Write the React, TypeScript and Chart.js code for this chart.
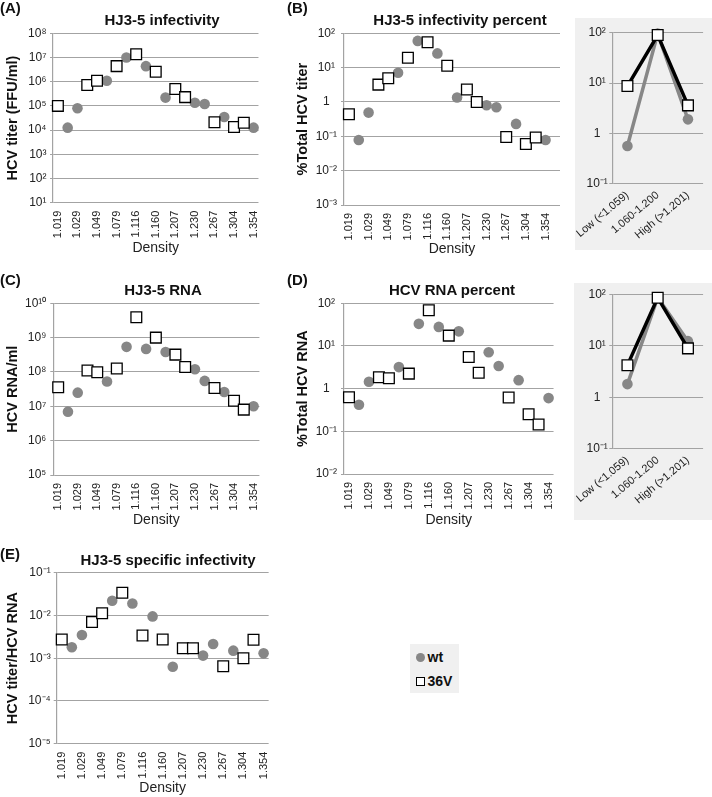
import React, { useEffect, useRef } from 'react';
import { Chart, registerables } from 'chart.js';

Chart.register(...registerables);
Chart.defaults.font.family = '"Liberation Sans", Arial, sans-serif';

// ---------- data ----------
const densityLabels = ['1.019', '1.029', '1.049', '1.079', '1.116', '1.160', '1.207', '1.230', '1.267', '1.304', '1.354'];

// 21 fractions; labelled every other fraction
const infectivityWt = [null, 1.26e4, 8e4, null, null, 1.1e6, null, 1e7, null, 4.4e6, null, 2.2e5, null, null, 1.35e5, 1.2e5, null, 3.5e4, null, null, 1.26e4];
const infectivity36V = [1e5, null, null, 7.3e5, 1.1e6, null, 4.4e6, null, 1.35e7, null, 2.6e6, null, 5e5, 2.3e5, null, null, 2.1e4, null, 1.35e4, 2e4, null];

const infPercentWt = [null, 0.078, 0.49, null, null, 7.1, null, 60, null, 26, null, 1.35, null, null, 0.8, 0.7, null, 0.23, null, null, 0.078];
const infPercent36V = [0.44, null, null, 3.2, 4.9, null, 19.5, null, 55, null, 11.4, null, 2.3, 1.0, null, null, 0.095, null, 0.06, 0.093, null];

const rnaWt = [null, 7e6, 2.5e7, null, null, 5.3e7, null, 5.4e8, null, 4.7e8, null, 3.8e8, null, null, 1.2e8, 5.5e7, null, 2.6e7, null, null, 1e7];
const rna36V = [3.6e7, null, null, 1.1e8, 9.8e7, null, 1.27e8, null, 3.9e9, null, 1e9, null, 3.2e8, 1.4e8, null, null, 3.4e7, null, 1.45e7, 8e6, null];

const rnaPercentWt = [null, 0.42, 1.45, null, null, 3.2, null, 33, null, 28, null, 22, null, null, 7.1, 3.4, null, 1.58, null, null, 0.6];
const rnaPercent36V = [0.63, null, null, 1.85, 1.75, null, 2.25, null, 69, null, 17.5, null, 5.5, 2.35, null, null, 0.62, null, 0.25, 0.145, null];

const specInfWt = [null, 1.8e-3, 3.5e-3, null, null, 2.2e-2, null, 1.9e-2, null, 9.5e-3, null, 6.3e-4, null, null, 1.15e-3, 2.15e-3, null, 1.5e-3, null, null, 1.3e-3];
const specInf36V = [2.75e-3, null, null, 7e-3, 1.12e-2, null, 3.4e-2, null, 3.4e-3, null, 2.75e-3, null, 1.7e-3, 1.7e-3, null, null, 6.5e-4, null, 1.0e-3, 2.7e-3, null];

const groupLabels = ['Low (<1.059)', '1.060-1.200', 'High (>1.201)'];
const infGroupWt = [0.56, 96, 1.9];
const infGroup36V = [8.7, 90, 3.6];
const rnaGroupWt = [1.8, 86, 12.3];
const rnaGroup36V = [4.2, 86, 8.9];

// ---------- helpers ----------
const SUP: Record<string, string> = { '0': '⁰', '1': '¹', '2': '²', '3': '³', '4': '⁴', '5': '⁵', '6': '⁶', '7': '⁷', '8': '⁸', '9': '⁹', '-': '⁻' };
function powLabel(v: number): string {
  const e = Math.round(Math.log10(v));
  if (e === 0) return '1';
  return '10' + String(e).split('').map((c) => SUP[c] || c).join('');
}
function pows(a: number, b: number): number[] {
  const out: number[] = [];
  for (let e = a; e <= b; e++) out.push(Math.pow(10, e));
  return out;
}

const GRID = '#a3a3a3';
const TICK = '#222222';
const WT_COLOR = '#878787';

type Box = { x: number; y: number; w: number; h: number };
type Plot = { l: number; t: number; r: number; b: number };

interface MainSpec {
  canvas: Box;
  plot: Plot;
  e0: number;
  e1: number;
  yTitle: string;
  wt: (number | null)[];
  v36: (number | null)[];
  xMax: number;
  densityPad: number;
  align: 'near' | 'center';
  tickPad: number;
}

function yScale(canvas: Box, plot: Plot, e0: number, e1: number, align: any, tickPad: number, title?: string) {
  const ticks = pows(e0, e1);
  return {
    type: 'logarithmic',
    position: 'left',
    min: Math.pow(10, e0),
    max: Math.pow(10, e1),
    afterBuildTicks: (s: any) => {
      s.ticks = ticks.map((v) => ({ value: v }));
    },
    afterFit: (s: any) => {
      s.width = plot.l - canvas.x;
    },
    grid: { color: GRID, lineWidth: 1, drawTicks: true, tickLength: 3, tickColor: GRID },
    border: { display: true, color: GRID, width: 1.2 },
    ticks: {
      padding: tickPad,
      crossAlign: align,
      color: TICK,
      font: { size: 12 },
      callback: (v: any) => powLabel(Number(v)),
    },
    title: title
      ? {
          display: true,
          text: title,
          color: '#111',
          font: { size: 14.5, weight: 'bold' },
          padding: { top: 4, bottom: 0 },
        }
      : { display: false },
  };
}

function mainConfig(s: MainSpec): any {
  const toPts = (arr: (number | null)[]) => arr.map((v, i) => ({ x: i, y: v }));
  return {
    type: 'line',
    data: {
      datasets: [
        {
          label: '36V',
          data: toPts(s.v36),
          showLine: false,
          clip: false,
          pointStyle: 'rect',
          pointRadius: 7.6,
          pointHoverRadius: 7.6,
          pointBackgroundColor: '#ffffff',
          pointBorderColor: '#000000',
          pointBorderWidth: 1.3,
        },
        {
          label: 'wt',
          data: toPts(s.wt),
          showLine: false,
          clip: false,
          pointStyle: 'circle',
          pointRadius: 5.3,
          pointHoverRadius: 5.3,
          pointBackgroundColor: WT_COLOR,
          pointBorderColor: WT_COLOR,
          pointBorderWidth: 0,
        },
      ],
    },
    options: {
      responsive: false,
      animation: false,
      events: [],
      layout: {
        padding: {
          top: s.plot.t - s.canvas.y,
          right: s.canvas.x + s.canvas.w - s.plot.r,
          left: 0,
          bottom: 0,
        },
      },
      plugins: { legend: { display: false }, tooltip: { enabled: false }, title: { display: false } },
      scales: {
        x: {
          type: 'linear',
          min: -0.5,
          max: s.xMax,
          grid: { display: false, drawTicks: false },
          border: { display: false },
          afterBuildTicks: (sc: any) => {
            sc.ticks = densityLabels.map((_, k) => ({ value: 2 * k }));
          },
          afterFit: (sc: any) => {
            sc.height = s.canvas.y + s.canvas.h - s.plot.b;
          },
          ticks: {
            autoSkip: false,
            minRotation: 90,
            maxRotation: 90,
            padding: 8,
            color: TICK,
            font: { size: 11 },
            callback: (v: any) => densityLabels[Math.round(Number(v) / 2)] ?? '',
          },
          title: {
            display: true,
            text: 'Density',
            color: '#222',
            font: { size: 14 },
            padding: { top: 0, bottom: s.densityPad },
          },
        },
        y: yScale(s.canvas, s.plot, s.e0, s.e1, s.align, s.tickPad, s.yTitle),
      },
    },
  };
}

interface InsetSpec {
  canvas: Box;
  plot: Plot;
  wt: number[];
  v36: number[];
}

function insetConfig(s: InsetSpec): any {
  return {
    type: 'line',
    data: {
      labels: groupLabels,
      datasets: [
        {
          label: '36V',
          data: s.v36,
          clip: false,
          borderColor: '#000000',
          borderWidth: 3.5,
          tension: 0,
          pointStyle: 'rect',
          pointRadius: 7.6,
          pointHoverRadius: 7.6,
          pointBackgroundColor: '#ffffff',
          pointBorderColor: '#000000',
          pointBorderWidth: 1.3,
        },
        {
          label: 'wt',
          data: s.wt,
          clip: false,
          borderColor: WT_COLOR,
          borderWidth: 3.5,
          tension: 0,
          pointStyle: 'circle',
          pointRadius: 5.3,
          pointHoverRadius: 5.3,
          pointBackgroundColor: WT_COLOR,
          pointBorderColor: WT_COLOR,
          pointBorderWidth: 0,
        },
      ],
    },
    options: {
      responsive: false,
      animation: false,
      events: [],
      layout: {
        padding: {
          top: s.plot.t - s.canvas.y,
          right: s.canvas.x + s.canvas.w - s.plot.r,
          left: 0,
          bottom: 0,
        },
      },
      plugins: { legend: { display: false }, tooltip: { enabled: false }, title: { display: false } },
      scales: {
        x: {
          type: 'category',
          offset: true,
          grid: { display: false, drawTicks: false },
          border: { display: false },
          afterFit: (sc: any) => {
            sc.height = s.canvas.y + s.canvas.h - s.plot.b;
          },
          ticks: {
            autoSkip: false,
            minRotation: 40,
            maxRotation: 40,
            padding: 5,
            color: TICK,
            font: { size: 11 },
          },
        },
        y: yScale(s.canvas, s.plot, -1, 2, 'center', 1.5),
      },
    },
  };
}

function ChartBox({ box, make }: { box: Box; make: () => any }) {
  const ref = useRef<HTMLCanvasElement | null>(null);
  useEffect(() => {
    if (!ref.current) return;
    const chart = new Chart(ref.current, make());
    return () => chart.destroy();
  }, []);
  return (
    <canvas
      ref={ref}
      width={box.w}
      height={box.h}
      style={{ position: 'absolute', left: box.x, top: box.y, width: box.w, height: box.h }}
    />
  );
}

const FONT = '"Liberation Sans", Arial, sans-serif';

function Label({ text, x, cy, size, bold, center }: { text: string; x: number; cy: number; size: number; bold?: boolean; center?: boolean }) {
  const lh = 18;
  const style: any = {
    position: 'absolute',
    top: cy - lh / 2,
    height: lh,
    lineHeight: lh + 'px',
    fontFamily: FONT,
    fontSize: size,
    fontWeight: bold ? 'bold' : 'normal',
    color: '#111',
    whiteSpace: 'nowrap',
  };
  if (center) {
    style.left = x - 150;
    style.width = 300;
    style.textAlign = 'center';
  } else {
    style.left = x;
  }
  return <div style={style}>{text}</div>;
}

const specA: MainSpec = {
  canvas: { x: 0, y: 0, w: 275, h: 262 },
  plot: { l: 53, t: 33.3, r: 267, b: 202.7 },
  e0: 1, e1: 8, yTitle: 'HCV titer (FFU/ml)',
  wt: infectivityWt, v36: infectivity36V,
  xMax: 20.5, densityPad: 5.6, align: 'near', tickPad: 3.5,
};
const specB: MainSpec = {
  canvas: { x: 290, y: 0, w: 280, h: 262 },
  plot: { l: 344, t: 33.3, r: 560, b: 205 },
  e0: -3, e1: 2, yTitle: '%Total HCV titer',
  wt: infPercentWt, v36: infPercent36V,
  xMax: 21.47, densityPad: 4.1, align: 'center', tickPad: 4,
};
const specC: MainSpec = {
  canvas: { x: 0, y: 262, w: 275, h: 270 },
  plot: { l: 53.3, t: 303.3, r: 271.7, b: 475 },
  e0: 5, e1: 10, yTitle: 'HCV RNA/ml',
  wt: rnaWt, v36: rna36V,
  xMax: 20.6, densityPad: 3.6, align: 'near', tickPad: 4,
};
const specD: MainSpec = {
  canvas: { x: 290, y: 262, w: 280, h: 270 },
  plot: { l: 344, t: 303.3, r: 560, b: 474 },
  e0: -2, e1: 2, yTitle: '%Total HCV RNA',
  wt: rnaPercentWt, v36: rnaPercent36V,
  xMax: 20.5, densityPad: 3.6, align: 'center', tickPad: 4,
};
const specE: MainSpec = {
  canvas: { x: 0, y: 524, w: 285, h: 273 },
  plot: { l: 56.7, t: 572.7, r: 276.7, b: 743.7 },
  e0: -5, e1: -1, yTitle: 'HCV titer/HCV RNA',
  wt: specInfWt, v36: specInf36V,
  xMax: 20.5, densityPad: 0.5, align: 'near', tickPad: 3,
};
const insetB: InsetSpec = {
  canvas: { x: 545, y: 18, w: 167, h: 232 },
  plot: { l: 612.3, t: 32.7, r: 706.7, b: 183.7 },
  wt: infGroupWt, v36: infGroup36V,
};
const insetD: InsetSpec = {
  canvas: { x: 545, y: 283, w: 167, h: 237 },
  plot: { l: 612.3, t: 294.3, r: 706.7, b: 448.7 },
  wt: rnaGroupWt, v36: rnaGroup36V,
};

export default function App() {
  return (
    <div style={{ position: 'absolute', left: 0, top: 0, width: 712, height: 797, background: '#fff', overflow: 'hidden' }}>
      <div style={{ position: 'absolute', left: 575, top: 18, width: 137, height: 232, background: '#f0f0f0' }} />
      <div style={{ position: 'absolute', left: 574, top: 283, width: 138, height: 237, background: '#f0f0f0' }} />

      <ChartBox box={specA.canvas} make={() => mainConfig(specA)} />
      <ChartBox box={specB.canvas} make={() => mainConfig(specB)} />
      <ChartBox box={specC.canvas} make={() => mainConfig(specC)} />
      <ChartBox box={specD.canvas} make={() => mainConfig(specD)} />
      <ChartBox box={specE.canvas} make={() => mainConfig(specE)} />
      <ChartBox box={insetB.canvas} make={() => insetConfig(insetB)} />
      <ChartBox box={insetD.canvas} make={() => insetConfig(insetD)} />

      <Label text="(A)" x={0} cy={8} size={15} bold />
      <Label text="HJ3-5 infectivity" x={162} cy={20} size={15} bold center />
      <Label text="(B)" x={287} cy={8} size={15} bold />
      <Label text="HJ3-5 infectivity percent" x={460} cy={20} size={15} bold center />
      <Label text="(C)" x={0} cy={280} size={15} bold />
      <Label text="HJ3-5 RNA" x={163} cy={289.5} size={15} bold center />
      <Label text="(D)" x={287} cy={280} size={15} bold />
      <Label text="HCV RNA percent" x={452} cy={290} size={15} bold center />
      <Label text="(E)" x={0} cy={553.5} size={15} bold />
      <Label text="HJ3-5 specific infectivity" x={168} cy={559.5} size={15} bold center />

      <div style={{ position: 'absolute', left: 410, top: 644, width: 49, height: 49, background: '#f0f0f0' }} />
      <div style={{ position: 'absolute', left: 416, top: 652.5, width: 9, height: 9, borderRadius: '50%', background: WT_COLOR }} />
      <Label text="wt" x={427.5} cy={656.5} size={14} bold />
      <div style={{ position: 'absolute', left: 415.5, top: 676.5, width: 7.5, height: 7.5, border: '1.3px solid #000', background: '#fff' }} />
      <Label text="36V" x={427.5} cy={681} size={14} bold />
    </div>
  );
}
